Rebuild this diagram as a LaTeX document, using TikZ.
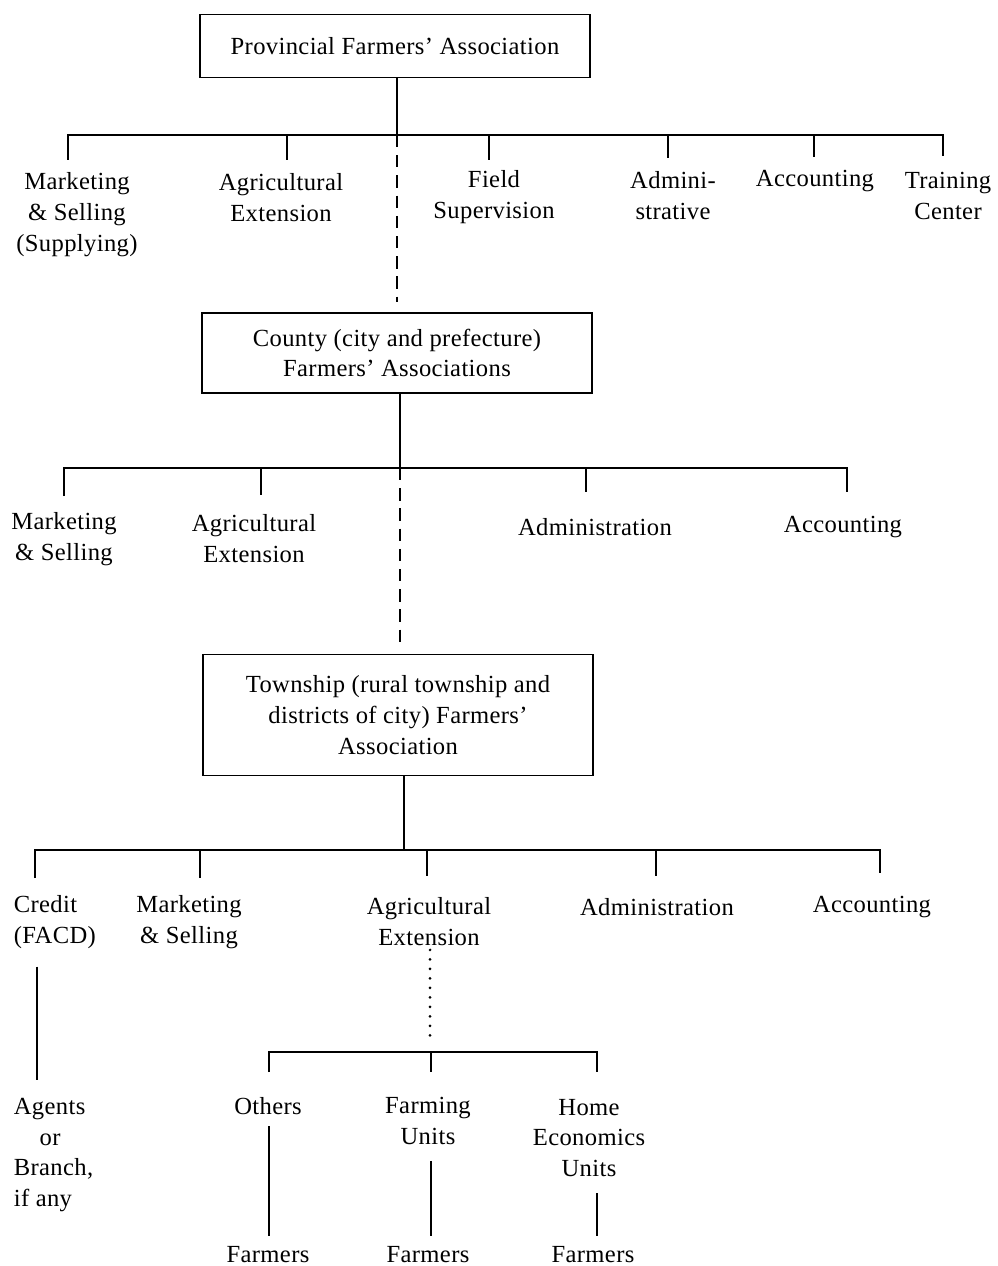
\documentclass[tikz,border=0pt]{standalone}
\usepackage{fontspec}
\setmainfont{Liberation Serif}[LetterSpace=1.5]
\usepackage{tikz}
\usetikzlibrary{positioning}

\newcommand{\chartfont}{\fontsize{14pt}{17.6pt}\selectfont}

\begin{document}
\begin{tikzpicture}[x=0.02cm, y=-0.02cm,
      every node/.style={font=\chartfont, align=center, inner sep=2pt},
      unitbox/.style={draw, line width=0.8pt, minimum width=7.8cm},
      link/.style={line width=0.8pt},
      dashlink/.style={link, dash pattern=on 7pt off 4.5pt},
      dotlink/.style={line width=1.7pt, line cap=round, dash pattern=on 0pt off 5.4pt}]
  \useasboundingbox (0,0) rectangle (997,1266);

  % provincial level
  \node[unitbox, minimum height=1.26cm] (prov) at (395,46) {Provincial Farmers' Association};
  \node (mkt1) at (77,215) {Marketing\\\& Selling\\(Supplying)};
  \node (ext1) at (281,198) {Agricultural\\Extension};
  \node (fld1) at (494,197) {Field\\Supervision};
  \node (adm1) at (673,196) {Admini-\\strative};
  \node (acc1) at (815,181) {Accounting};
  \node (trn1) at (948,196) {Training\\Center};
  \coordinate (j1) at (397,135);
  \coordinate (t11) at (68,160);
  \coordinate (t12) at (287,160);
  \coordinate (t13) at (489,160);
  \coordinate (t14) at (668,158);
  \coordinate (t15) at (814,157);
  \coordinate (t16) at (943,156);
  \draw[link] (prov.south -| j1) -- (j1);
  \draw[link] (t11) |- (t16 |- j1) -- (t16);
  \foreach \t in {t12,t13,t14,t15} \draw[link] (\t |- j1) -- (\t);

  % county level
  \node[unitbox, minimum height=1.6cm] (cnty) at (397,353) {County (city and prefecture)\\Farmers' Associations};
  \draw[dashlink] (j1) -- ([yshift=6pt]cnty.north -| j1);
  \node (mkt2) at (64,539) {Marketing\\\& Selling};
  \node (ext2) at (254,539) {Agricultural\\Extension};
  \node (adm2) at (595,527) {Administration};
  \node (acc2) at (843,527) {Accounting};
  \coordinate (j2) at (400,468);
  \coordinate (t21) at (64,496);
  \coordinate (t22) at (261,495);
  \coordinate (t23) at (586,492);
  \coordinate (t24) at (847,492);
  \draw[link] (cnty.south -| j2) -- (j2);
  \draw[link] (t21) |- (t24 |- j2) -- (t24);
  \foreach \t in {t22,t23} \draw[link] (\t |- j2) -- (\t);

  % township level
  \node[unitbox, minimum height=2.42cm] (twn) at (398,715) {Township (rural township and\\districts of city) Farmers'\\Association};
  \draw[dashlink] (j2) -- ([yshift=4pt]twn.north -| j2);
  \node[anchor=west, align=left] (crd3) at (10,922) {Credit\\(FACD)};
  \node (mkt3) at (189,922) {Marketing\\\& Selling};
  \node (ext3) at (429,922) {Agricultural\\Extension};
  \node (adm3) at (657,907) {Administration};
  \node (acc3) at (872,907) {Accounting};
  \coordinate (j3) at (404,850);
  \coordinate (t31) at (35,878);
  \coordinate (t32) at (200,878);
  \coordinate (t33) at (427,876);
  \coordinate (t34) at (656,876);
  \coordinate (t35) at (880,873);
  \draw[link] (twn.south -| j3) -- (j3);
  \draw[link] (t31) |- (t35 |- j3) -- (t35);
  \foreach \t in {t32,t33,t34} \draw[link] (\t |- j3) -- (\t);

  % below credit and extension
  \node[anchor=west, align=left] (agt) at (10,1155) {Agents\\\hspace*{1.05em}or\\Branch,\\if any};
  \coordinate (c1) at (37,1000);
  \draw[link, shorten <=8pt, shorten >=8pt] (crd3.south -| c1) -- (agt.north -| c1);
  \coordinate (j4) at (430,1052);
  \draw[dotlink, shorten >=8pt] (ext3.south -| j4) -- (j4);
  \node (oth) at (268,1106) {Others};
  \node (frm) at (428,1121) {Farming\\Units};
  \node (hom) at (589,1138) {Home\\Economics\\Units};
  \node (far1) at (268,1255) {Farmers};
  \node (far2) at (428,1255) {Farmers};
  \node (far3) at (593,1255) {Farmers};
  \coordinate (t41) at (269,1072);
  \coordinate (t42) at (431,1072);
  \coordinate (t43) at (597,1072);
  \draw[link] (t41) |- (t43 |- j4) -- (t43);
  \draw[link] (t42 |- j4) -- (t42);
  \draw[link, shorten <=4.5pt, shorten >=3.7pt] (oth.south -| t41) -- (far1.north -| t41);
  \draw[link, shorten <=7pt, shorten >=3.7pt] (frm.south -| t42) -- (far2.north -| t42);
  \draw[link, shorten <=7pt, shorten >=3.7pt] (hom.south -| t43) -- (far3.north -| t43);
\end{tikzpicture}
\end{document}
